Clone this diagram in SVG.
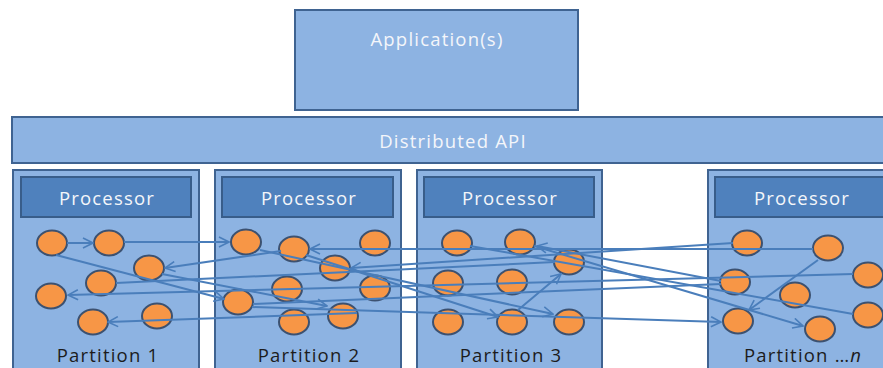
<svg xmlns="http://www.w3.org/2000/svg" width="883" height="368" viewBox="0 0 883 368">
  <defs>
    <style>
      .box { fill: #8db3e2; stroke: #3f6391; stroke-width: 2; }
      .hdr { fill: #4f81bd; stroke: #385d8a; stroke-width: 2; }
      .lbl { font-family: "Open Sans", "Liberation Sans", sans-serif; font-size: 18.5px; fill: #f4f6fa; text-anchor: middle; letter-spacing: 1.2px; }
      .part { font-family: "Open Sans", "Liberation Sans", sans-serif; font-size: 18.5px; fill: #1c1c1c; text-anchor: middle; letter-spacing: 1.2px; }
      .dot { fill: #f79646; stroke: #3c5170; stroke-width: 2; }
      .link { stroke: #4a7ebb; stroke-width: 2; fill: none; }
      .arr { marker-end: url(#open); }
    </style>
    <marker id="open" viewBox="0 0 12 12" refX="11" refY="6" markerWidth="12" markerHeight="12" markerUnits="userSpaceOnUse" orient="auto">
      <path d="M1,1 L11,6 L1,11" fill="none" stroke="#4a7ebb" stroke-width="1.6"/>
    </marker>
  </defs>

  <rect width="883" height="368" fill="#ffffff"/>

  <g id="application">
    <rect class="box" x="295" y="10" width="283" height="100"/>
    <text class="lbl" x="437" y="46">Application(s)</text>
  </g>

  <g id="distributed-api">
    <rect class="box" x="12" y="117" width="880" height="46"/>
    <text class="lbl" x="453" y="148">Distributed API</text>
  </g>

  <g id="partition-1">
    <rect class="box" x="13" y="170" width="186" height="210"/>
    <rect class="hdr" x="21" y="177" width="170" height="40"/>
    <text class="lbl" x="107" y="205">Processor</text>
    <ellipse class="dot" cx="52" cy="243" rx="15" ry="12.5"/>
    <ellipse class="dot" cx="109" cy="243" rx="15" ry="12.5"/>
    <ellipse class="dot" cx="149" cy="268" rx="15" ry="12.5"/>
    <ellipse class="dot" cx="101" cy="283" rx="15" ry="12.5"/>
    <ellipse class="dot" cx="51" cy="296" rx="15" ry="12.5"/>
    <ellipse class="dot" cx="93" cy="322" rx="15" ry="12.5"/>
    <ellipse class="dot" cx="157" cy="316" rx="15" ry="12.5"/>
    <text class="part" x="108" y="362">Partition 1</text>
  </g>

  <g id="partition-2">
    <rect class="box" x="215" y="170" width="186" height="210"/>
    <rect class="hdr" x="222" y="177" width="171" height="40"/>
    <text class="lbl" x="309" y="205">Processor</text>
    <ellipse class="dot" cx="246" cy="242" rx="15" ry="12.5"/>
    <ellipse class="dot" cx="294" cy="249" rx="15" ry="12.5"/>
    <ellipse class="dot" cx="375" cy="243" rx="15" ry="12.5"/>
    <ellipse class="dot" cx="335" cy="268" rx="15" ry="12.5"/>
    <ellipse class="dot" cx="287" cy="289" rx="15" ry="12.5"/>
    <ellipse class="dot" cx="375" cy="288" rx="15" ry="12.5"/>
    <ellipse class="dot" cx="238" cy="302" rx="15" ry="12.5"/>
    <ellipse class="dot" cx="294" cy="322" rx="15" ry="12.5"/>
    <ellipse class="dot" cx="343" cy="316" rx="15" ry="12.5"/>
    <text class="part" x="309" y="362">Partition 2</text>
  </g>

  <g id="partition-3">
    <rect class="box" x="417" y="170" width="185" height="210"/>
    <rect class="hdr" x="424" y="177" width="170" height="40"/>
    <text class="lbl" x="510" y="205">Processor</text>
    <ellipse class="dot" cx="457" cy="243" rx="15" ry="12.5"/>
    <ellipse class="dot" cx="520" cy="242" rx="15" ry="12.5"/>
    <ellipse class="dot" cx="569" cy="262" rx="15" ry="12.5"/>
    <ellipse class="dot" cx="448" cy="283" rx="15" ry="12.5"/>
    <ellipse class="dot" cx="512" cy="282" rx="15" ry="12.5"/>
    <ellipse class="dot" cx="448" cy="322" rx="15" ry="12.5"/>
    <ellipse class="dot" cx="512" cy="322" rx="15" ry="12.5"/>
    <ellipse class="dot" cx="569" cy="322" rx="15" ry="12.5"/>
    <text class="part" x="511" y="362">Partition 3</text>
  </g>

  <g id="partition-n">
    <rect class="box" x="708" y="170" width="190" height="210"/>
    <rect class="hdr" x="715" y="177" width="175" height="40"/>
    <text class="lbl" x="802" y="205">Processor</text>
    <ellipse class="dot" cx="747" cy="243" rx="15" ry="12.5"/>
    <ellipse class="dot" cx="828" cy="248" rx="15" ry="12.5"/>
    <ellipse class="dot" cx="735" cy="282" rx="15" ry="12.5"/>
    <ellipse class="dot" cx="795" cy="295" rx="15" ry="12.5"/>
    <ellipse class="dot" cx="868" cy="275" rx="15" ry="12.5"/>
    <ellipse class="dot" cx="868" cy="315" rx="15" ry="12.5"/>
    <ellipse class="dot" cx="738" cy="321" rx="15" ry="12.5"/>
    <ellipse class="dot" cx="820" cy="329" rx="15" ry="12.5"/>
    <text class="part" x="803" y="362">Partition …<tspan font-style="italic">n</tspan></text>
  </g>

  <g id="connectors">
    <line class="link arr" x1="67" y1="243" x2="93" y2="243"/>
    <line class="link arr" x1="124" y1="242" x2="229" y2="242"/>
    <line class="link arr" x1="56" y1="255" x2="224" y2="299"/>
    <line class="link arr" x1="162" y1="274" x2="327" y2="306"/>
    <line class="link arr" x1="281" y1="251" x2="165" y2="268"/>
    <line class="link arr" x1="853" y1="274" x2="68" y2="295"/>
    <line class="link" x1="116" y1="283" x2="555" y2="262"/>
    <line class="link arr" x1="813" y1="249" x2="310" y2="249"/>
    <line class="link arr" x1="733" y1="243" x2="351" y2="268"/>
    <line class="link" x1="470" y1="246" x2="853" y2="314"/>
    <line class="link arr" x1="534" y1="246" x2="803" y2="326"/>
    <line class="link arr" x1="818" y1="260" x2="749" y2="310"/>
    <line class="link arr" x1="721" y1="281" x2="537" y2="246"/>
    <line class="link" x1="721" y1="284" x2="253" y2="304"/>
    <line class="link arr" x1="260" y1="250" x2="553" y2="314"/>
    <line class="link arr" x1="306" y1="255" x2="498" y2="317"/>
    <line class="link arr" x1="518" y1="310" x2="561" y2="274"/>
    <line class="link arr" x1="252" y1="307" x2="721" y2="322"/>
    <line class="link arr" x1="357" y1="313" x2="108" y2="322"/>
  </g>
</svg>
